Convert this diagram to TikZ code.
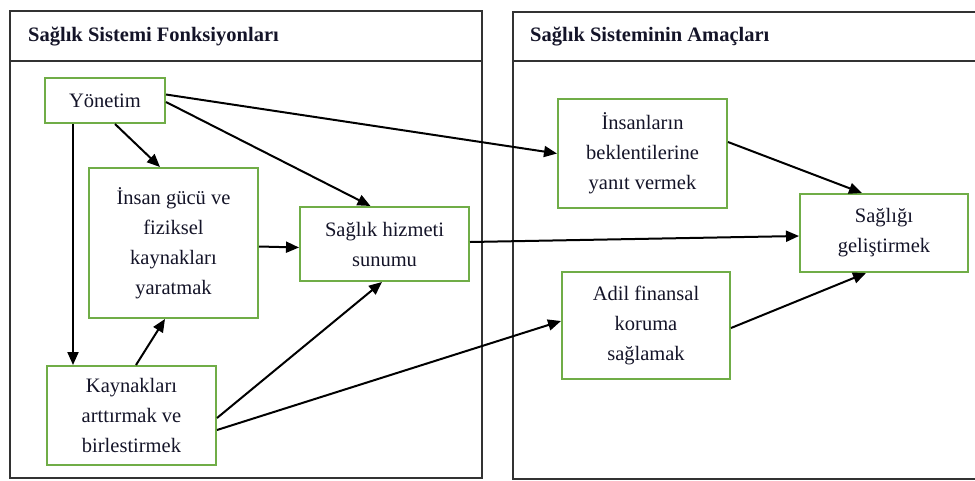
\documentclass[tikz,border=0pt]{standalone}
\usepackage{fontspec}
\setmainfont{Liberation Serif}
\usetikzlibrary{arrows.meta}

\definecolor{boxgreen}{RGB}{112,173,71}
\definecolor{panelgray}{RGB}{50,50,50}
\definecolor{inktext}{RGB}{20,20,40}

\tikzset{
  panel/.style={draw=panelgray, line width=2.6pt},
  heading/.style={anchor=west, inner sep=0pt, text=inktext,
    font=\fontsize{20.5}{30}\selectfont\bfseries},
  fbox/.style={draw=boxgreen, line width=2pt, inner sep=0pt, align=center,
    text=inktext, font=\fontsize{20.5}{30}\selectfont},
  link/.style={line width=2pt, -{Triangle[length=13pt,width=11pt]}},
}

\begin{document}
\begin{tikzpicture}[x=1pt, y=-1pt]
\useasboundingbox (0,0) rectangle (975,480);

% left panel: functions of the health system
\draw[panel] (10,11) rectangle (482,478);
\draw[panel] (10,61) -- (482,61);
\node[heading] (hleft) at (28,37) {Sağlık Sistemi Fonksiyonları};

% right panel: goals of the health system (open to the right)
\draw[panel] (976,12) -- (513,12) -- (513,479) -- (976,479);
\draw[panel] (513,61) -- (976,61);
\node[heading] (hright) at (530,37) {Sağlık Sisteminin Amaçları};

% function boxes
\node[fbox, minimum width=120pt, minimum height=45pt] (yon) at (105,100.5) {Yönetim};
\node[fbox, minimum width=169pt, minimum height=150pt] (ins) at (173.5,243)
  {İnsan gücü ve\\fiziksel\\kaynakları\\yaratmak};
\node[fbox, minimum width=169pt, minimum height=74pt] (sun) at (384.5,244)
  {Sağlık hizmeti\\sunumu};
\node[fbox, minimum width=169pt, minimum height=99pt] (kay) at (131.5,415.5)
  {Kaynakları\\arttırmak ve\\birlestirmek};

% goal boxes
\node[fbox, minimum width=169pt, minimum height=109pt] (bek) at (642.5,153.5)
  {İnsanların\\beklentilerine\\yanıt vermek};
\node[fbox, minimum width=168pt, minimum height=78pt] (gel) at (884,233)
  {Sağlığı\\geliştirmek};
\node[fbox, minimum width=168pt, minimum height=107pt] (adil) at (646,325.5)
  {Adil finansal\\koruma\\sağlamak};

% connectors
\draw[link] ([yshift=6pt]yon.east) -- (bek.west);
\draw[link] ([yshift=-1.5pt]yon.east) -- ([xshift=-14pt]sun.north);
\draw[link] ([xshift=10pt]yon.south) -- ([xshift=-13.5pt]ins.north);
\draw[link] ([xshift=-32pt]yon.south) -- ([xshift=-58.5pt]kay.north);
\draw[link] ([xshift=4.5pt]kay.north) -- ([xshift=-8.5pt]ins.south);
\draw[link] ([yshift=-3.5pt]ins.east) -- ([yshift=-3.5pt]sun.west);
\draw[link] ([yshift=-2.5pt]kay.east) -- ([xshift=-2.5pt]sun.south);
\draw[link] ([yshift=-14.5pt]kay.east) -- ([yshift=4.5pt]adil.west);
\draw[link] ([yshift=2pt]sun.east) -- ([yshift=-3pt]gel.west);
\draw[link] ([yshift=11.5pt]bek.east) -- ([xshift=-22pt]gel.north);
\draw[link] ([yshift=-2.5pt]adil.east) -- ([xshift=-18pt]gel.south);
\end{tikzpicture}
\end{document}
